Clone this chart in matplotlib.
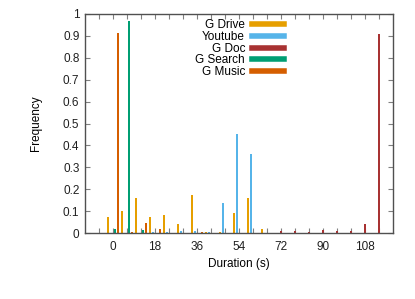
import numpy as np
import matplotlib
matplotlib.use("Agg")
import matplotlib.pyplot as plt

plt.rcParams['font.family'] = ['Liberation Sans', 'DejaVu Sans']

# duration bins (s), one cluster per bin
durations = np.arange(0, 120, 6)

g_drive = [0.072, 0.100, 0.162, 0.072, 0.082, 0.041, 0.173, 0.006, 0.003, 0.092,
           0.158, 0.017, 0, 0, 0, 0, 0, 0, 0, 0]
youtube = [0, 0, 0, 0.004, 0.004, 0.010, 0.009, 0.006, 0.138, 0.452,
           0.359, 0, 0, 0, 0, 0, 0, 0, 0, 0]
g_doc = [0, 0, 0, 0, 0, 0, 0, 0, 0, 0,
         0, 0, 0.007, 0.008, 0.003, 0.012, 0.010, 0.010, 0.043, 0.907]
g_search = [0.020, 0.968, 0.012, 0, 0, 0, 0, 0, 0, 0,
            0, 0, 0, 0, 0, 0, 0, 0, 0, 0]
g_music = [0.913, 0.005, 0.047, 0.016, 0.002, 0, 0.006, 0, 0, 0,
           0, 0, 0, 0, 0, 0, 0, 0, 0, 0]

series = [("G Drive", g_drive, "#E69F00"),
          ("Youtube", youtube, "#56B4E9"),
          ("G Doc", g_doc, "#A83232"),
          ("G Search", g_search, "#009E73"),
          ("G Music", g_music, "#D55E00")]

fs = 8.5

fig = plt.figure(figsize=(4.15, 2.99), dpi=100)
ax = fig.add_axes([85/415, 1-233/299, 308/415, 219/299])

n = len(series)
for j, (name, vals, col) in enumerate(series):
    off = (j - (n - 1) / 2) * 1.0
    ax.bar(durations + off, vals, width=0.8, color=col, zorder=2)
    ax.plot([], [], color=col, lw=4.0, label=name)

ax.set_xlim(-12, 120)
ax.set_ylim(0, 1)

ticks = np.arange(-6, 120, 6)
ax.set_xticks(ticks)
ax.set_xticklabels([str(t) if (t >= 0 and t % 18 == 0) else "" for t in ticks])
ax.set_yticks(np.arange(0, 1.01, 0.1))
ax.set_yticklabels(["0"] + ["%.1f" % v for v in np.arange(0.1, 0.95, 0.1)] + ["1"])

ax.tick_params(direction='in', length=3.5, width=0.8, color='#808080',
               top=True, right=True, labelsize=fs, labelcolor='#202020')
ax.tick_params(axis='x', pad=6)
ax.tick_params(axis='y', pad=4)
for s in ax.spines.values():
    s.set_color('#505050')
    s.set_linewidth(1.0)

ax.set_xlabel("Duration (s)", fontsize=fs, labelpad=3)
ax.set_ylabel("Frequency", fontsize=fs, labelpad=15)

leg = ax.legend(loc='upper right', bbox_to_anchor=(199/308, 0.975), frameon=False,
                markerfirst=False, fontsize=fs, handlelength=2.7,
                handletextpad=0.6, labelspacing=-0.03, borderpad=0.0,
                borderaxespad=0.0)
for t in leg.get_texts():
    t.set_ha('right')

fig.savefig("out.png", dpi=100)
